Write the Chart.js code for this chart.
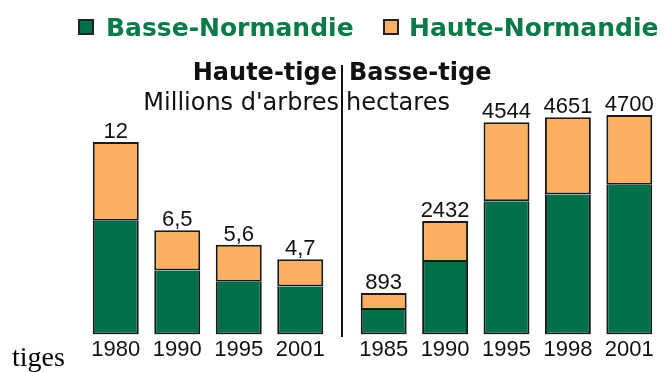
<!DOCTYPE html>
<html>
<head>
<meta charset="utf-8">
<script src="https://cdn.jsdelivr.net/npm/chart.js@4/dist/chart.umd.min.js"></script>
<style>
  html, body { margin: 0; padding: 0; background: #ffffff; }
  #wrap { position: relative; width: 664px; height: 372px; overflow: hidden; }
  #wrap canvas { position: absolute; left: 0; top: 0; }
</style>
</head>
<body>
<div id="wrap">
  <canvas id="hauteTige" width="664" height="372"></canvas>
  <canvas id="basseTige" width="664" height="372"></canvas>
</div>
<script>
// Vergers haute-tige : millions d'arbres
const hauteTigeYears = ['1980', '1990', '1995', '2001'];
const hauteTigeBasseNormandie = [7.1, 4.0, 3.3, 3.0];
const hauteTigeHauteNormandie = [4.9, 2.5, 2.3, 1.7];

// Vergers basse-tige : hectares
const basseTigeYears = ['1985', '1990', '1995', '1998', '2001'];
const basseTigeBasseNormandie = [524, 1552, 2853, 3000, 3209];
const basseTigeHauteNormandie = [369, 880, 1691, 1651, 1491];

const seriesNames = ['Basse-Normandie', 'Haute-Normandie'];

const GREEN = '#00704a';
const ORANGE = '#fdb061';
const EDGE = '#1a1a1a';
const TEXT_GREEN = '#0a7a48';
const SANS = '"Liberation Sans", Arial, sans-serif';
const WIDE = '"DejaVu Sans", Verdana, sans-serif';

function formatTotal(v) {
  return (Math.round(v * 10) / 10).toString().replace('.', ',');
}

// Total of each stacked column, written above it
const totalLabels = {
  id: 'totalLabels',
  afterDatasetsDraw(chart) {
    const ctx = chart.ctx;
    const topMeta = chart.getDatasetMeta(chart.data.datasets.length - 1);
    ctx.save();
    ctx.font = '22px ' + SANS;
    ctx.fillStyle = '#111';
    ctx.textAlign = 'center';
    ctx.textBaseline = 'alphabetic';
    chart.data.labels.forEach((_, i) => {
      const total = chart.data.datasets.reduce((s, d) => s + d.data[i], 0);
      const bar = topMeta.data[i];
      ctx.fillText(formatTotal(total), bar.x, bar.y - 4);
    });
    ctx.restore();
  }
};

// Legend, panel titles, separator and footer word
const decorations = {
  id: 'decorations',
  afterDraw(chart) {
    const ctx = chart.ctx;
    ctx.save();
    // legend
    const swatches = [[78, GREEN, seriesNames[0], 106], [383, ORANGE, seriesNames[1], 409]];
    swatches.forEach(([sx, col, name, tx]) => {
      ctx.fillStyle = col;
      ctx.fillRect(sx, 19, 16, 16);
      ctx.strokeStyle = '#222';
      ctx.lineWidth = 2;
      ctx.strokeRect(sx + 1, 20, 14, 14);
      ctx.fillStyle = TEXT_GREEN;
      ctx.font = 'bold 25px ' + WIDE;
      ctx.textAlign = 'left';
      ctx.textBaseline = 'alphabetic';
      ctx.fillText(name, tx, 36);
    });
    // separator
    ctx.fillStyle = '#111';
    ctx.fillRect(341, 65, 2, 272);
    // titles
    ctx.fillStyle = '#111';
    ctx.font = 'bold 24px ' + WIDE;
    ctx.textAlign = 'right';
    ctx.fillText('Haute-tige', 337, 80);
    ctx.textAlign = 'left';
    ctx.fillText('Basse-tige', 349, 80);
    ctx.font = '24px ' + WIDE;
    ctx.textAlign = 'right';
    ctx.fillText("Millions d'arbres", 339, 110);
    ctx.textAlign = 'left';
    ctx.fillText('hectares', 346, 110);
    // footer
    ctx.font = '28px "Liberation Serif", "Times New Roman", serif';
    ctx.fillStyle = '#000';
    ctx.fillText('tiges', 12, 366);
    ctx.restore();
  }
};

function makeChart(id, years, basse, haute, yMax, pad, extra) {
  return new Chart(document.getElementById(id), {
    type: 'bar',
    data: {
      labels: years,
      datasets: [
        {
          label: seriesNames[0],
          data: basse,
          backgroundColor: GREEN,
          borderColor: EDGE,
          borderWidth: { top: 0, left: 2, right: 2, bottom: 2 },
          borderSkipped: false
        },
        {
          label: seriesNames[1],
          data: haute,
          backgroundColor: ORANGE,
          borderColor: EDGE,
          borderWidth: 2,
          borderSkipped: false
        }
      ]
    },
    options: {
      responsive: false,
      animation: false,
      events: [],
      layout: { padding: pad },
      datasets: { bar: { categoryPercentage: 1, barPercentage: 0.748 } },
      plugins: { legend: { display: false }, tooltip: { enabled: false } },
      scales: {
        x: {
          stacked: true,
          grid: { display: false, drawTicks: false },
          border: { display: false },
          ticks: { padding: 2, maxRotation: 0, autoSkip: false, color: '#111', font: { family: SANS, size: 22 } }
        },
        y: { stacked: true, display: false, min: 0, max: yMax }
      }
    },
    plugins: extra
  });
}

makeChart('hauteTige', hauteTigeYears, hauteTigeBasseNormandie, hauteTigeHauteNormandie, 12,
  { left: 85, right: 333, top: 142, bottom: 7 }, [totalLabels, decorations]);
makeChart('basseTige', basseTigeYears, basseTigeBasseNormandie, basseTigeHauteNormandie, 4700,
  { left: 353, right: 4, top: 115, bottom: 7 }, [totalLabels]);
</script>
</body>
</html>
